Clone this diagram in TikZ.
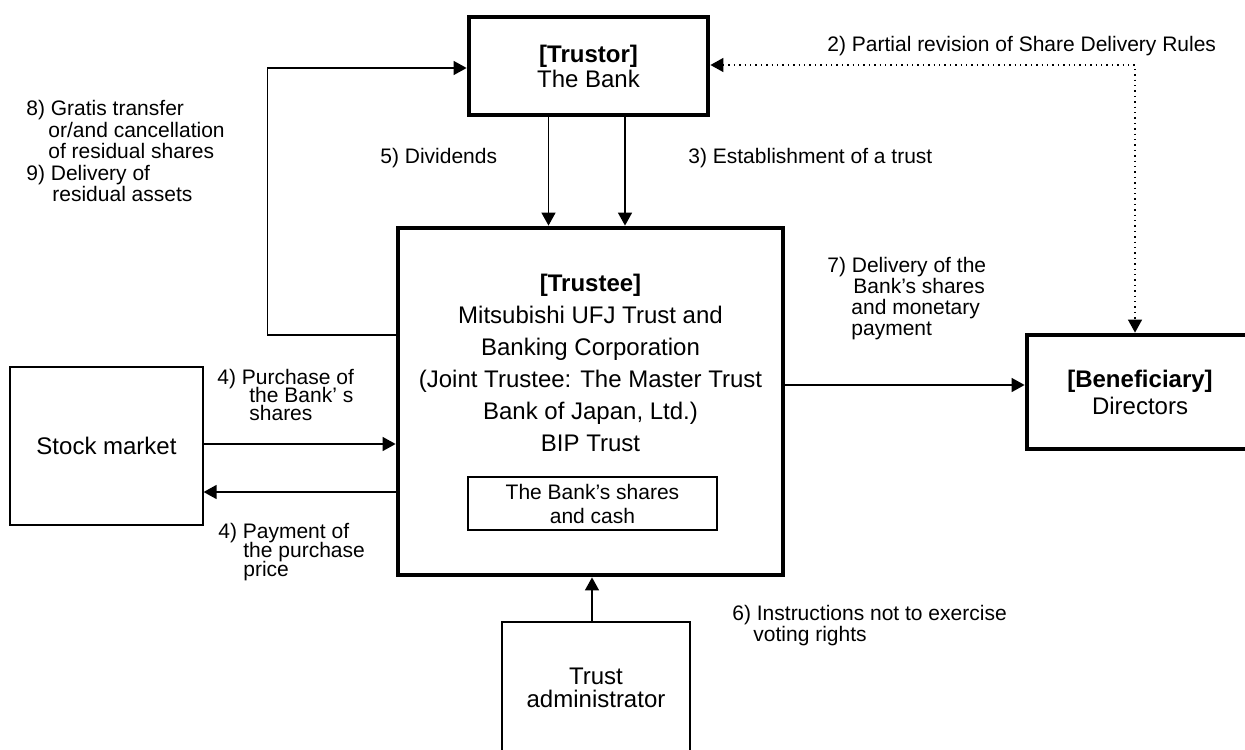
\documentclass[tikz,border=0pt]{standalone}
\usepackage{fontspec}
\setmainfont{Liberation Sans}
\usetikzlibrary{arrows.meta, positioning, calc}

\begin{document}
\begin{tikzpicture}[
        x=0.5pt, y=-0.5pt,
        box/.style={
            draw,
            line width=0.6pt,
            align=center,
            inner sep=0pt,
            font=\fontsize{12}{12}\selectfont
        },
        party/.style={box, line width=2.4pt},
        holding/.style={box, font=\fontsize{10.5}{12}\selectfont},
        flow/.style={
            -{Triangle[length=6.5pt, width=7pt]},
            line width=0.7pt
        },
        rulesflow/.style={
            {Triangle[length=6.5pt, width=7pt]}-{Triangle[length=6.5pt, width=7pt]},
            line width=0.7pt,
            dotted
        },
        steptext/.style={
            anchor=west,
            align=left,
            inner sep=0pt,
            font=\fontsize{10.5}{10.75}\selectfont
        },
        tighttext/.style={
            steptext,
            font={\fontsize{10.5}{#1}\selectfont\lineskiplimit=-20pt}
        }
    ]

    \useasboundingbox (0,0) rectangle (1245,749);

    % parties
    \node[party, minimum width=119.5pt, minimum height=49pt,
        font=\fontsize{12}{12.5}\selectfont] (trustor) at (588.5,66)
        {\textbf{[Trustor]}\\The Bank};
    \node[party, minimum width=192.5pt, minimum height=173.5pt] (trustee) at (590.5,401.5) {};
    \node[align=center, inner sep=0pt, font=\fontsize{12}{16}\selectfont] (trusteelbl) at (590.5,362.5)
        {\textbf{[Trustee]}\\Mitsubishi UFJ Trust and\\Banking Corporation\\(Joint Trustee: The Master Trust\\Bank of Japan, Ltd.)\\BIP Trust};
    \node[holding, minimum width=124.5pt, minimum height=26.5pt] (assets) at (592.5,503.5)
        {The Bank’s shares\\and cash};
    \node[party, minimum width=113pt, minimum height=57pt,
        font=\fontsize{12}{13.5}\selectfont] (benef) at (1140,392)
        {\textbf{[Beneficiary]}\\Directors};
    \node[box, minimum width=96.5pt, minimum height=79pt] (market) at (106.5,446) {Stock market};
    \node[box, minimum width=94pt, minimum height=65.5pt,
        font=\fontsize{12}{11.5}\selectfont] (admin) at (596,687.5)
        {Trust\\administrator};

    % flows
    \draw[rulesflow] ([yshift=0.5pt]trustor.east) -| ([xshift=-2.5pt]benef.north);
    \draw[flow] ([xshift=-20pt]trustor.south) -- ([xshift=-20pt]trustor.south |- trustee.north);
    \draw[flow] ([xshift=18.25pt]trustor.south) -- ([xshift=18.25pt]trustor.south |- trustee.north);
    \draw[flow] ([yshift=33.25pt]trustee.west) -- ++(-64pt,0) |- ([yshift=-1pt]trustor.west);
    \draw[flow] ([yshift=1pt]market.east) -- ([yshift=1pt]market.east -| trustee.west);
    \draw[flow] ([yshift=-23pt]market.east -| trustee.west) -- ([yshift=-23pt]market.east);
    \draw[flow] ([yshift=3.5pt]benef.west -| trustee.east) -- ([yshift=3.5pt]benef.west);
    \draw[flow] ([xshift=-2pt]admin.north) -- ([xshift=-2pt]admin.north |- trustee.south);

    % step labels
    \node[steptext] (rulestxt) at (827,46) {2) Partial revision of Share Delivery Rules};
    \node[steptext] (trusttxt) at (688,158) {3) Establishment of a trust};
    \node[steptext] (divtxt) at (380,158) {5) Dividends};
    \node[steptext] (residtxt) at (26,151)
        {8) Gratis transfer\\\hspace*{11pt}or/and cancellation\\\hspace*{11pt}of residual shares\\9) Delivery of\\\hspace*{13pt}residual assets};
    \node[steptext, font=\fontsize{10.5}{10.5}\selectfont] (delivtxt) at (827,298.5)
        {7) Delivery of the\\\hspace*{13pt}Bank’s shares\\\hspace*{12pt}and monetary\\\hspace*{12pt}payment};
    \node[tighttext=9] (buytxt) at (217,395)
        {4) Purchase of\\\hspace*{16pt}the Bank’ s\\\hspace*{16pt}shares};
    \node[tighttext=9.5] (paytxt) at (218,552)
        {4) Payment of\\\hspace*{12.5pt}the purchase\\\hspace*{12.5pt}price};
    \node[steptext, font=\fontsize{10.5}{10.5}\selectfont] (votetxt) at (732,625.5)
        {6) Instructions not to exercise\\\hspace*{10.5pt}voting rights};

\end{tikzpicture}
\end{document}
